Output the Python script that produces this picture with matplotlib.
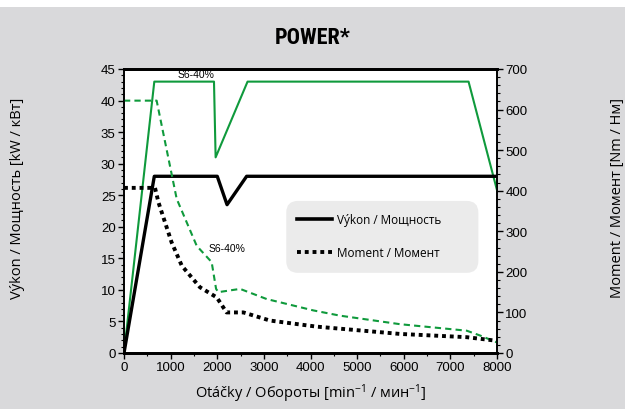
import matplotlib.pyplot as plt
from matplotlib.patches import FancyBboxPatch, Rectangle
from matplotlib.ticker import MultipleLocator
from matplotlib import font_manager

# power curves [kW] vs speed [rpm]
rpm_p_s6 = [0, 650, 1930, 1965, 2650, 7390, 8000]
pow_s6 = [0, 43, 43, 31, 43, 43, 25.8]
rpm_p = [0, 650, 2000, 2210, 2630, 8000]
pow_s1 = [0, 28, 28, 23.5, 28, 28]

# torque curves [Nm] vs speed [rpm]
rpm_t_s6 = [0, 700, 1130, 1560, 1880, 1975, 2025, 2490, 3060, 4060, 4635, 5920, 7350, 7640, 8000]
tor_s6 = [622, 622, 380, 264, 224, 158, 150, 158, 133, 105, 92, 71, 55, 43, 26]
rpm_t = [0, 665, 740, 1020, 1240, 1630, 1990, 2200, 2560, 3130, 4130, 5920, 7350, 8000]
tor_s1 = [407, 407, 371, 273, 215, 162, 137, 100, 100, 80, 65, 47, 39, 30]

green = '#0f9a3c'
grey_bg = '#d9d9db'

plt.rcParams['mathtext.fontset'] = 'custom'
plt.rcParams['mathtext.rm'] = 'Open Sans'
plt.rcParams['mathtext.it'] = 'Open Sans'
plt.rcParams['mathtext.default'] = 'rm'

names = {f.name for f in font_manager.fontManager.ttflist}

fig = plt.figure(figsize=(6.25, 4.1), dpi=100)
fig.patch.set_facecolor(grey_bg)
fig.patches.append(Rectangle((0, 1 - 8 / 410), 1, 8 / 410, transform=fig.transFigure,
                             facecolor='white', edgecolor='none', zorder=0))

ax = fig.add_axes([124 / 625, 56 / 410, 373 / 625, 284 / 410])
ax2 = ax.twinx()

ax.plot(rpm_p_s6, pow_s6, color=green, lw=1.5, zorder=3)
ax.plot(rpm_p, pow_s1, color='black', lw=2.4, zorder=3)
ax2.plot(rpm_t_s6, tor_s6, color=green, lw=1.5, ls=(0, (3, 2)))
ax2.plot(rpm_t, tor_s1, color='black', lw=2.8, ls=(0, (1, 1)))

ax.set_xlim(0, 8000)
ax.set_ylim(0, 45)
ax2.set_ylim(0, 700)
ax.xaxis.set_major_locator(MultipleLocator(1000))
ax.xaxis.set_minor_locator(MultipleLocator(500))
ax.yaxis.set_major_locator(MultipleLocator(5))
ax.yaxis.set_minor_locator(MultipleLocator(1))
ax2.yaxis.set_major_locator(MultipleLocator(100))
ax2.yaxis.set_minor_locator(MultipleLocator(20))

tick_font = 'Liberation Sans'
for a in (ax, ax2):
    a.tick_params(which='major', direction='out', length=4, width=1, labelsize=9.5, pad=2)
    a.tick_params(which='minor', direction='out', length=2.5, width=0.8)
    for lab in a.get_xticklabels() + a.get_yticklabels():
        lab.set_fontfamily(tick_font)
    for s in a.spines.values():
        s.set_linewidth(1.2)
    a.spines['top'].set_linewidth(2)
    a.spines['bottom'].set_linewidth(2)

ax.set_xlabel('Otáčky / Обороты [min$^{\\mathregular{-1}}$ / мин$^{\\mathregular{-1}}$]', fontsize=10.5,
              family='Open Sans', labelpad=6)
fig.text(18 / 625, 212 / 410, 'Výkon / Mощность [kW / кВт]', rotation=90,
         ha='center', va='center', fontsize=10.5, family='Open Sans')
fig.text(617 / 625, 212 / 410, 'Moment / Момент [Nm / Нм]', rotation=90,
         ha='center', va='center', fontsize=10.5, family='Open Sans')
title_fams = [n for n in ['Liberation Sans Narrow', 'DejaVu Sans Condensed', 'Roboto Condensed'] if n in names]
fig.text(0.5, 1 - 38 / 410, 'POWER*', ha='center', va='center', fontsize=16,
         fontweight='bold', fontstretch='condensed', family=title_fams + ['DejaVu Sans'])

ax.text(1550, 43.4, 'S6-40%', fontsize=7.5, ha='center', va='bottom', family=tick_font)
ax.text(2220, 16.7, 'S6-40%', fontsize=7.5, ha='center', va='center', family=tick_font)

# legend box
ax.add_patch(FancyBboxPatch((3480, 12.7), 4120, 11.4, boxstyle='round,pad=0,rounding_size=250',
                            facecolor='#ebebeb', edgecolor='none', zorder=2,
                            mutation_aspect=45 / 8000 * 373 / 284))
ax.plot([3710, 4460], [21.2, 21.2], color='black', lw=2.6, zorder=3)
ax.plot([3710, 4460], [16.0, 16.0], color='black', lw=2.8, ls=(0, (1, 1)), zorder=3)
ax.text(4570, 21.2, 'Výkon / Mощность', fontsize=8.5, va='center', family='Open Sans', zorder=3)
ax.text(4570, 16.0, 'Moment / Момент', fontsize=8.5, va='center', family='Open Sans', zorder=3)

fig.savefig('out.png', dpi=100, facecolor=fig.get_facecolor())
